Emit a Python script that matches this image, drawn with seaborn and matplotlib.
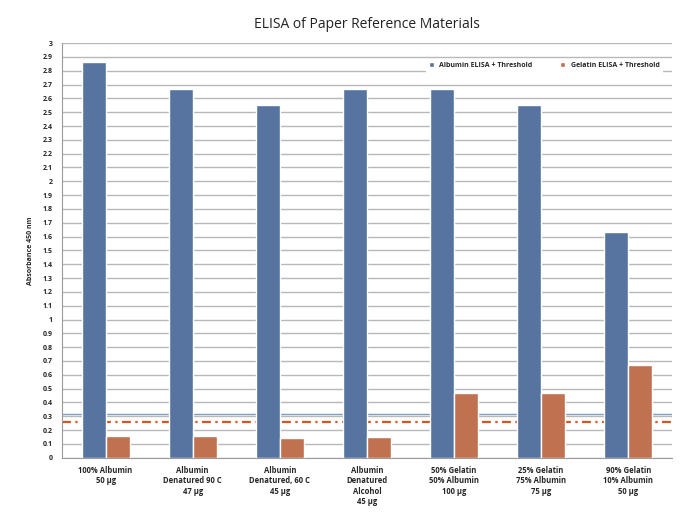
"""
ELISA of paper reference materials: albumin vs gelatin absorbance per sample
"""

import pandas as pd
import numpy as np
import seaborn as sns
import matplotlib.pyplot as plt

samples = [
    "100% Albumin\n50 µg",
    "Albumin\nDenatured 90 C\n47 µg",
    "Albumin\nDenatured, 60 C\n45 µg",
    "Albumin\nDenatured\nAlcohol\n45 µg",
    "50% Gelatin\n50% Albumin\n100 µg",
    "25% Gelatin\n75% Albumin\n75 µg",
    "90% Gelatin\n10% Albumin\n50 µg",
]
albumin = [2.86, 2.67, 2.55, 2.67, 2.67, 2.55, 1.63]
gelatin = [0.16, 0.16, 0.145, 0.15, 0.47, 0.47, 0.67]
series = ["Albumin ELISA + Threshold", "Gelatin ELISA + Threshold"]
albumin_threshold = 0.32
gelatin_threshold = 0.26

df = pd.DataFrame({
    "sample": samples * 2,
    "value": albumin + gelatin,
    "series": [series[0]] * len(samples) + [series[1]] * len(samples),
})

sns.set_style("white")
plt.rcParams["font.family"] = ["Open Sans", "DejaVu Sans"]

fig, ax = plt.subplots(figsize=(6.82, 5.19), dpi=100)
fig.subplots_adjust(left=0.091, right=0.985, top=0.917, bottom=0.118)

palette = {series[0]: "#56749f", series[1]: "#c0714f"}
sns.barplot(data=df, x="sample", y="value", hue="series", palette=palette,
            width=0.55, saturation=1, ax=ax, zorder=3)

ax.axhline(albumin_threshold, color="#7f9cc4", lw=1.0, zorder=2)
ax.axhline(gelatin_threshold, color="#d9541e", lw=1.6, ls=(0, (4, 2, 1, 2)), zorder=2)

ax.set_ylim(0, 3)
ticks = np.round(np.arange(0, 3.01, 0.1), 1)
ax.set_yticks(ticks)
ax.set_yticklabels([f"{t:g}" for t in ticks], fontsize=5, fontweight="bold")
ax.yaxis.grid(True, color="#b8b8b8", lw=1.0, zorder=0)
ax.set_axisbelow(True)
ax.tick_params(axis="x", labelsize=5.5, length=0, pad=6)
for lbl in ax.get_xticklabels():
    lbl.set_fontweight("bold")
ax.set_xlabel("")
ax.set_ylabel("Absorbance 450 nm", fontsize=5, fontweight="bold", labelpad=6)

for side in ["top", "right"]:
    ax.spines[side].set_visible(False)
ax.spines["left"].set_color("#9a9a9a")
ax.spines["bottom"].set_color("#9a9a9a")

ax.set_title("ELISA of Paper Reference Materials", fontsize=10, pad=11,
             color="#222222")
ax.legend(loc="upper right", bbox_to_anchor=(0.99, 0.97), ncol=2,
          frameon=True, facecolor="white", edgecolor="white", framealpha=1,
          handlelength=0.7, handleheight=0.7, columnspacing=4,
          prop={"weight": "bold", "size": 5})

fig.savefig("out.png", dpi=100)
plt.close(fig)
